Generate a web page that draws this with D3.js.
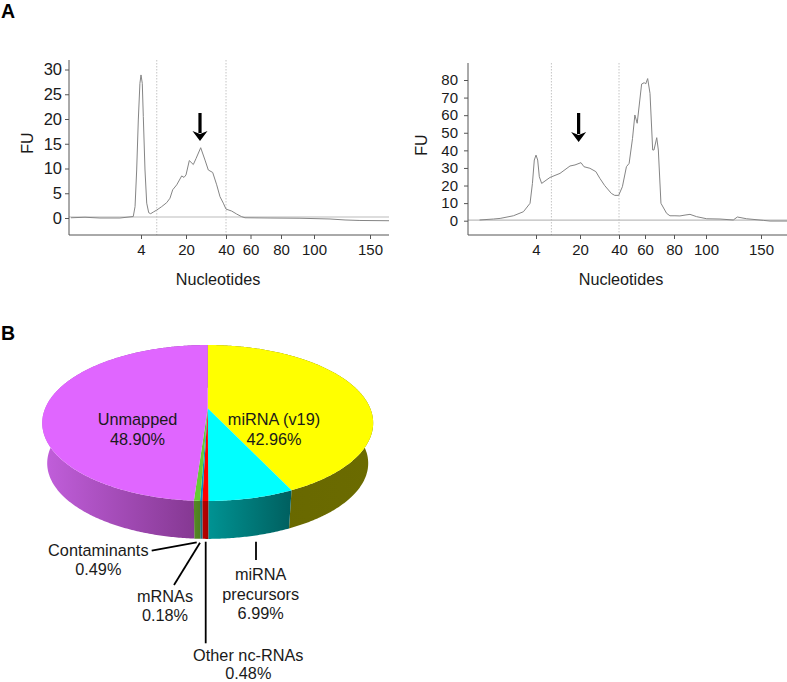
<!DOCTYPE html>
<html>
<head>
<meta charset="utf-8">
<script src="https://cdn.jsdelivr.net/npm/d3@7"></script>
<style>
  html, body { margin: 0; padding: 0; background: #fff; }
  svg { display: block; }
  text { font-family: "Liberation Sans", Arial, sans-serif; fill: #1a1a1a; }
</style>
</head>
<body>
<div id="chart"></div>
<script>
// electropherogram traces, nucleotides / FU
const leftNt = [0.11, 0.89, 1.72, 2.83, 3.57, 3.67, 3.76, 3.85, 3.94, 4, 4.46, 4.82, 5.42, 6.03, 6.74, 7.45, 8.37, 9.58, 11.36, 13.14, 14.31, 15.27, 16.7, 18.47, 19.29, 20, 21.65, 23.65, 25, 27.35, 29.5, 31.15, 33.35, 35.35, 37, 38.65, 40, 44.65, 48.7, 52.8, 55.5, 72.8, 91.5, 114.3, 127.7, 141, 175];
const leftFu = [0.05, 0.15, 0, 0, 0.3, 2.3, 9.7, 19.8, 27.2, 28.9, 27.2, 20.5, 9.7, 3, 1.07, 0.87, 1.2, 1.6, 2.3, 3.1, 4, 5.7, 6.7, 8.5, 8.2, 8.7, 11.6, 10.8, 12, 14.2, 11.7, 9.7, 9.2, 6.7, 4.3, 3, 1.8, 1.4, 0.8, 0.26, 0.05, 0, -0.05, -0.2, -0.4, -0.5, -0.55];
const rightNt = [0.68, 1.5, 1.89, 2.67, 3.26, 3.65, 3.79, 3.9, 4, 4.61, 5.21, 6.06, 9.09, 12.73, 16.36, 18.18, 20.51, 22.03, 25.08, 28.14, 30.17, 32.71, 36.1, 37.8, 39.83, 42.6, 45.72, 47.8, 50.4, 52.2, 54, 57.4, 59.5, 60.46, 61.84, 63.45, 65.3, 66.2, 68.1, 69.2, 71, 74.9, 77.2, 80.6, 83.7, 86.9, 90, 94.1, 100.6, 112.7, 124.8, 128.5, 136.9, 152.2, 158.7, 175];
const rightFu = [0.4, 0.95, 1.3, 2.8, 5.1, 9.9, 21.2, 34.5, 37.3, 34.5, 25, 21.2, 24.6, 26.9, 31.1, 31.7, 33, 30.7, 29.8, 27.9, 24.1, 19.9, 15.5, 14.4, 14.4, 19.3, 30.7, 32.6, 46.8, 60.1, 55.4, 77.7, 78.5, 77.7, 80.8, 72.4, 40.2, 40.2, 47.2, 40.2, 9.9, 4.2, 2.8, 2.8, 2.7, 3.2, 3.6, 2.3, 1.1, 0.95, 0.4, 2.1, 1.1, 0.2, -0.2, -0.2];

const ntTicks = [4, 20, 40, 60, 80, 100, 150];
const leftFuTicks = [0, 5, 10, 15, 20, 25, 30];
const rightFuTicks = [0, 10, 20, 30, 40, 50, 60, 70, 80];
const ntDomain = [0, 4, 20, 40, 60, 80, 100, 150, 175];
const markerNt = [9.6, 40];

// pie slices, clockwise from twelve o'clock
const sliceNames = ['miRNA (v19)', 'miRNA precursors', 'Other nc-RNAs', 'mRNAs', 'Contaminants', 'Unmapped'];
const sliceValues = [42.96, 6.99, 0.48, 0.18, 0.49, 48.90];
const sliceTop = ['#ffff00', '#00ffff', '#ff0000', '#0a8fc0', '#66cc33', '#e066ff'];
const sliceSideA = ['#666600', '#009393', '#b80000', '#1a6f7f', '#558a25', '#c25fdc'];
const sliceSideB = ['#6b6b00', '#005f5f', '#a80000', '#1a6f7f', '#4f7f20', '#80358c'];

const width = 787, height = 682;
const svg = d3.select('#chart').append('svg')
  .attr('width', width)
  .attr('height', height)
  .attr('viewBox', `0 0 ${width} ${height}`);
const defs = svg.append('defs');

function panelLabel(txt, x, y) {
  svg.append('text').attr('x', x).attr('y', y)
    .attr('font-size', 19.5).attr('font-weight', 'bold').style('fill', '#000').text(txt);
}
panelLabel('A', 1, 17.7);
panelLabel('B', 1, 340);

function trace(opt) {
  const x = d3.scaleLinear().domain(ntDomain).range(opt.xRange);
  const y = d3.scaleLinear().domain(opt.fuDomain).range(opt.fuRange);
  const g = svg.append('g');
  const xEnd = opt.xRange[opt.xRange.length - 1], x0 = opt.xRange[0];

  // smear/region markers
  g.selectAll('line.marker').data(markerNt).enter().append('line')
    .attr('class', 'marker')
    .attr('x1', d => x(d)).attr('x2', d => x(d))
    .attr('y1', opt.top).attr('y2', opt.bottom)
    .attr('stroke', '#c4c4c4').attr('stroke-width', 1).attr('stroke-dasharray', '1.5,1.5');

  g.append('line')
    .attr('x1', x0).attr('x2', xEnd)
    .attr('y1', y(0) + opt.zeroShift).attr('y2', y(0) + opt.zeroShift)
    .attr('stroke', '#bcbcbc').attr('stroke-width', 1.2);

  const line = d3.line()
    .x((d, i) => x(opt.nt[i]))
    .y(d => y(d));
  g.append('path').datum(opt.fu)
    .attr('d', line)
    .attr('fill', 'none')
    .attr('stroke', '#858585')
    .attr('stroke-width', 1);

  const yAxis = d3.axisLeft(y).tickValues(opt.fuTicks).tickSize(4).tickPadding(opt.yPad);
  const yG = g.append('g').attr('transform', `translate(${x0},0)`).call(yAxis);
  yG.select('.domain').attr('d', `M0,${opt.top}V${opt.bottom}`);

  const xAxis = d3.axisBottom(x).tickValues(ntTicks).tickSize(4).tickPadding(5).tickFormat(d3.format('d'));
  const xG = g.append('g').attr('transform', `translate(0,${opt.bottom})`).call(xAxis);
  xG.select('.domain').attr('d', `M${x0},0H${xEnd}`);

  g.selectAll('.domain, .tick line').attr('stroke', '#555').attr('stroke-width', 1);
  g.selectAll('.tick text').attr('font-size', 15).attr('font-family', '"Liberation Sans", Arial, sans-serif').style('fill', '#1a1a1a');
  yG.selectAll('.tick text').attr('font-size', opt.ySize);

  g.append('text').attr('x', opt.titleX).attr('y', 285).attr('text-anchor', 'middle')
    .attr('font-size', 16.2).text('Nucleotides');
  g.append('text').attr('transform', `translate(${opt.fuX},${opt.fuY}) rotate(-90)`)
    .attr('text-anchor', 'middle').attr('font-size', 16).text('FU');

  // arrow
  const ax = x(opt.arrowNt);
  g.append('line').attr('x1', ax).attr('x2', ax).attr('y1', opt.arrowTop).attr('y2', opt.arrowTip - 8)
    .attr('stroke', '#000').attr('stroke-width', 3.2);
  g.append('path')
    .attr('d', d3.line()([[ax - 7.5, opt.arrowTip - 10], [ax, opt.arrowTip - 7], [ax + 7.5, opt.arrowTip - 10], [ax, opt.arrowTip]]) + 'Z')
    .attr('fill', '#000');
}

trace({
  nt: leftNt, fu: leftFu, fuTicks: leftFuTicks,
  xRange: [69, 141, 186, 226, 250.5, 281, 314, 370, 389],
  fuDomain: [0, 30], fuRange: [218, 69.5],
  top: 60, bottom: 235, zeroShift: -1, yPad: 3, ySize: 16.5,
  titleX: 218, fuX: 33, fuY: 143,
  arrowNt: 27, arrowTop: 113, arrowTip: 141
});
trace({
  nt: rightNt, fu: rightFu, fuTicks: rightFuTicks,
  xRange: [468, 536, 580, 619, 645, 674, 706, 761, 787],
  fuDomain: [0, 80], fuRange: [220.7, 80],
  top: 63, bottom: 235, zeroShift: -0.5, yPad: 6, ySize: 15,
  titleX: 621, fuX: 427, fuY: 145,
  arrowNt: 19.5, arrowTop: 113, arrowTip: 142
});

// pie, drawn as a tilted disc in perspective
const pieCx = 207.7, topCy = 408.3, botCy = 449;
const pieA = 162.5, pieB = 75.2, persp = 0.1885, botScale = 0.97;

function project(theta, cy, s) {
  const w = 1 + persp * Math.cos(theta);
  return [pieCx + s * pieA * Math.sin(theta) / w, cy - s * pieB * Math.cos(theta) / w];
}

const arcs = d3.pie().sort(null).value(d => d)(sliceValues);
const step = 0.01;
const sampled = d => d3.range(d.startAngle, d.endAngle, step).concat(d.endAngle);
const outline = d3.line();

// side wall first, back of it gets hidden by the top face
const sides = svg.append('g');
arcs.forEach((d, i) => {
  const angles = sampled(d);
  const topEdge = angles.map(t => project(t, topCy, 1));
  const botEdge = angles.map(t => project(t, botCy, botScale)).reverse();
  const xs = topEdge.map(p => p[0]);
  const grad = defs.append('linearGradient')
    .attr('id', `side-${i}`)
    .attr('gradientUnits', 'userSpaceOnUse')
    .attr('x1', d3.min(xs)).attr('x2', d3.max(xs))
    .attr('y1', 0).attr('y2', 0);
  grad.append('stop').attr('offset', '0%').attr('stop-color', sliceSideA[i]);
  grad.append('stop').attr('offset', '100%').attr('stop-color', sliceSideB[i]);
  sides.append('path')
    .attr('d', outline(topEdge.concat(botEdge)) + 'Z')
    .attr('fill', `url(#side-${i})`);
});

svg.append('g').selectAll('path').data(arcs).enter().append('path')
  .attr('d', d => outline([[pieCx, topCy]].concat(sampled(d).map(t => project(t, topCy, 1)))) + 'Z')
  .attr('fill', (d, i) => sliceTop[i]);

function labels(lines, x, y0, dy) {
  lines.forEach((l, i) => {
    svg.append('text').attr('x', x).attr('y', y0 + i * dy)
      .attr('text-anchor', 'middle').attr('font-size', 16.3).text(l);
  });
}
const pct = i => d3.format('.2f')(sliceValues[i]) + '%';
labels([sliceNames[5], pct(5)], 137.5, 425, 19.5);
labels([sliceNames[0], pct(0)], 274, 425, 19.5);
labels(['Contaminants', pct(4)], 98.3, 556, 19.3);
labels([sliceNames[3], pct(3)], 165, 601.7, 19.3);
labels(['miRNA', 'precursors', pct(1)], 260.7, 580, 19.5);
labels([sliceNames[2], pct(2)], 248.3, 660.5, 18);

const leaders = [
  [151.7, 550.7, 196.7, 542.3],
  [174, 585, 200, 542.7],
  [205.7, 541.7, 205.7, 643.3],
  [256, 541.7, 256, 560]
];
svg.append('g').selectAll('line').data(leaders).enter().append('line')
  .attr('x1', d => d[0]).attr('y1', d => d[1])
  .attr('x2', d => d[2]).attr('y2', d => d[3])
  .attr('stroke', '#000').attr('stroke-width', 1.8);
</script>
</body>
</html>
